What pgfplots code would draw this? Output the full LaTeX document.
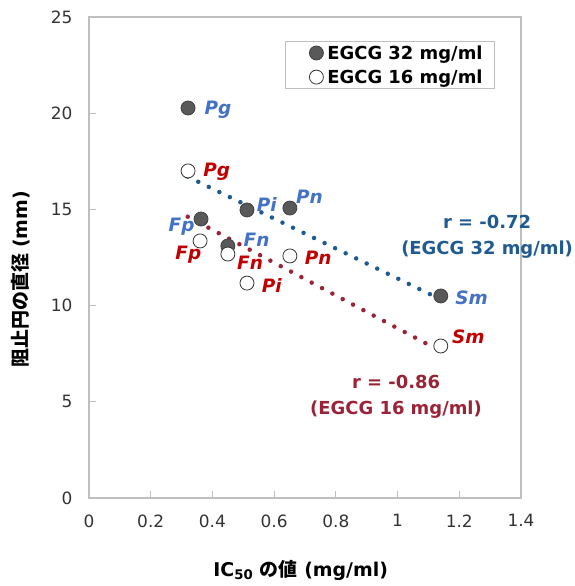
\documentclass[border=0pt]{standalone}
\usepackage{fontspec}
\setmainfont{DejaVu Sans}
\newfontfamily\jp{Noto Sans CJK JP}
\usepackage{pgfplots}
\pgfplotsset{compat=1.18}
\definecolor{bluetrend}{RGB}{31,90,145}
\definecolor{redtrend}{RGB}{155,35,55}
\definecolor{bluelab}{RGB}{68,114,196}
\definecolor{redlab}{RGB}{192,0,0}
\definecolor{axgray}{RGB}{191,191,191}
\definecolor{dotfill}{RGB}{89,89,89}
\begin{document}
\begin{tikzpicture}[x=1bp,y=1bp]
\useasboundingbox (-89,-88) rectangle (486,498);
\begin{axis}[at={(0,0)}, anchor=south west,
  width=432bp, height=481bp, scale only axis,
  xmin=0, xmax=1.4, ymin=0, ymax=25,
  xtick={0,0.2,0.4,0.6,0.8,1,1.2,1.4}, ytick={0,5,10,15,20,25},
  axis line style={axgray, line width=1.2bp},
  tick style={axgray, line width=1bp},
  tick align=inside, major tick length=7bp,
  xtick pos=bottom, ytick pos=left,
  /pgf/number format/assume math mode=true,
  tick label style={font=\fontsize{17}{20}\selectfont, text=black!80},
  xticklabel style={yshift=-13bp},
  yticklabel style={xshift=-13bp},
  xlabel={\bfseries IC\textsubscript{50} {\jp\bfseries の値} (mg/ml)},
  ylabel={{\jp\bfseries 阻止円の直径} \bfseries(mm)},
  label style={font=\fontsize{19}{22}\selectfont},
  xlabel style={at={(axis description cs:0.49,0)}, anchor=center, yshift=-72bp},
  ylabel style={at={(axis description cs:0,0.455)}, anchor=center, rotate=0, yshift=68bp},
  legend style={at={(axis description cs:0.4537,0.950)}, anchor=north west,
    draw=axgray, line width=0.8bp, font=\bfseries\fontsize{18}{20}\selectfont,
    inner xsep=10bp, inner ysep=2bp, row sep=5bp,
    /tikz/every even column/.style={column sep=0bp}},
  legend cell align=left,
  legend image code/.code={\path[draw=none,fill=none] (-21bp,0) -- (9bp,0); \draw[#1] plot coordinates {(0bp,0bp)};},
  clip=false,
]
\addplot[only marks, mark=*, mark size=7bp, mark options={fill=dotfill, draw=black!75, line width=0.8bp}]
  coordinates {(0.321,20.27) (0.363,14.5) (0.450,13.1) (0.512,14.97) (0.651,15.07) (1.140,10.5)};
\addlegendentry{EGCG 32 mg/ml\hspace{6bp}}
\addplot[only marks, mark=*, mark size=7bp, mark options={fill=white, draw=black!80, line width=0.8bp}]
  coordinates {(0.321,17.0) (0.360,13.36) (0.450,12.68) (0.512,11.17) (0.651,12.58) (1.140,7.9)};
\addlegendentry{EGCG 16 mg/ml\hspace{6bp}}
\addplot[forget plot, bluetrend, line width=4.5bp, line cap=round, dash pattern=on 0bp off 11.7bp]
  coordinates {(0.320,16.70) (1.140,10.32)};
\addplot[forget plot, redtrend, line width=4.5bp, line cap=round, dash pattern=on 0bp off 11.7bp]
  coordinates {(0.320,14.62) (1.115,7.84)};
\begin{scope}[every node/.style={font=\bfseries\itshape\fontsize{18.5}{22}\selectfont}]
\node[text=bluelab] at (axis cs:0.418,20.17) {Pg};
\node[text=redlab]  at (axis cs:0.414,16.96) {Pg};
\node[text=bluelab] at (axis cs:0.300,14.10) {Fp};
\node[text=redlab]  at (axis cs:0.322,12.63) {Fp};
\node[text=bluelab] at (axis cs:0.543,13.41) {Fn};
\node[text=redlab]  at (axis cs:0.522,12.23) {Fn};
\node[text=bluelab] at (axis cs:0.576,15.28) {Pi};
\node[text=redlab]  at (axis cs:0.592,11.07) {Pi};
\node[text=bluelab] at (axis cs:0.714,15.66) {Pn};
\node[text=redlab]  at (axis cs:0.743,12.46) {Pn};
\node[text=bluelab] at (axis cs:1.240,10.38) {Sm};
\node[text=redlab]  at (axis cs:1.229,8.38) {Sm};
\end{scope}
\node[text=bluetrend, align=center, font=\bfseries\fontsize{18}{26}\selectfont] at (axis cs:1.290,13.6) {r = -0.72\\(EGCG 32 mg/ml)};
\node[text=redtrend, align=center, font=\bfseries\fontsize{18}{26}\selectfont] at (axis cs:0.995,5.25) {r = -0.86\\(EGCG 16 mg/ml)};
\end{axis}
\end{tikzpicture}
\end{document}
